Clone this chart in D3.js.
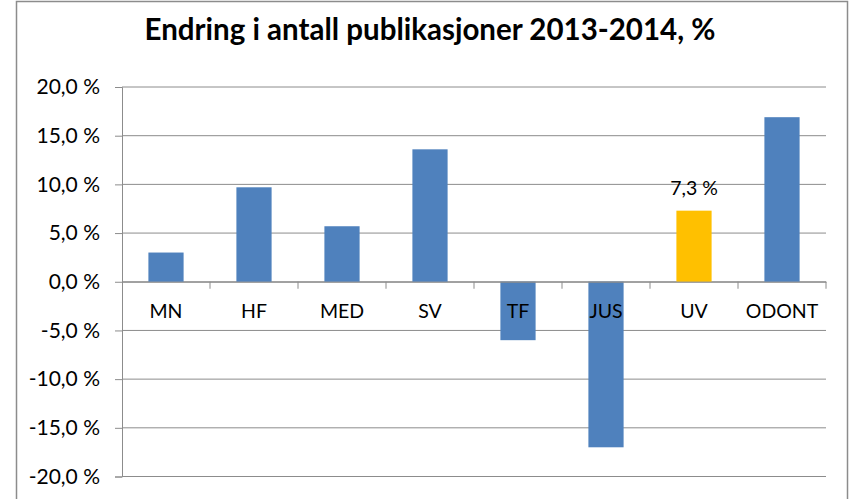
<!DOCTYPE html>
<html>
<head>
<meta charset="utf-8">
<script src="https://cdn.jsdelivr.net/npm/d3@7"></script>
<style>
  body { margin: 0; background: #fff; }
  text { font-family: Lato, "Open Sans", sans-serif; fill: #000; }
</style>
</head>
<body>
<div id="chart"></div>
<script>
// data
var categories = ["MN", "HF", "MED", "SV", "TF", "JUS", "UV", "ODONT"];
var changes = [3.0, 9.7, 5.7, 13.6, -6.0, -17.0, 7.3, 16.9];
var highlight = "UV";
var yTicks = [-20, -15, -10, -5, 0, 5, 10, 15, 20];
var chartTitle = "Endring i antall publikasjoner 2013-2014, %";

var svgWidth = 850;
var svgHeight = 499;

var margin = { top: 87, right: 24, bottom: 22, left: 122 };
var width = 826 - margin.left;
var height = 476.5 - margin.top;

// Norwegian style: comma decimal, plain hyphen for minus
var fmt = function (v) { return v.toFixed(1).replace(".", ",") + " %"; };

var svg = d3.select("#chart").append("svg")
    .attr("width", svgWidth)
    .attr("height", svgHeight);

// outer frame
svg.append("rect")
    .attr("x", 16.5).attr("y", 1.5)
    .attr("width", 831).attr("height", 520)
    .attr("fill", "#fff")
    .attr("stroke", "#8c8c8c")
    .attr("stroke-width", 1.5);

svg.append("text")
    .attr("x", 430)
    .attr("y", 40)
    .attr("text-anchor", "middle")
    .attr("font-size", 29.5)
    .attr("font-weight", "bold")
    .text(chartTitle);

var chartGroup = svg.append("g")
    .attr("transform", `translate(${margin.left}, ${margin.top})`);

var xScale = d3.scaleBand()
    .domain(categories)
    .range([0, width])
    .paddingInner(0.6)
    .paddingOuter(0.3);

var xGrid = d3.scaleBand().domain(categories).range([0, width]);

var yScale = d3.scaleLinear()
    .domain([-20, 20])
    .range([height, 0]);

// gridlines + left axis
var leftAxis = d3.axisLeft(yScale)
    .tickValues(yTicks)
    .tickSize(7)
    .tickPadding(15)
    .tickFormat(fmt);

var yAxisG = chartGroup.append("g").call(leftAxis);
yAxisG.select(".domain").attr("stroke", "#8c8c8c");
yAxisG.selectAll(".tick line").attr("stroke", "#8c8c8c");
yAxisG.selectAll("text").attr("font-size", 21).attr("fill", "#000");

chartGroup.append("g")
    .selectAll("line")
    .data(yTicks)
    .enter()
    .append("line")
    .attr("x1", 0)
    .attr("x2", width)
    .attr("y1", d => yScale(d))
    .attr("y2", d => yScale(d))
    .attr("stroke", "#8c8c8c")
    .attr("stroke-width", 1);

// bars
chartGroup.selectAll(".bar")
    .data(categories)
    .enter()
    .append("rect")
    .attr("class", "bar")
    .attr("x", d => xScale(d))
    .attr("width", xScale.bandwidth())
    .attr("y", (d, i) => yScale(Math.max(0, changes[i])))
    .attr("height", (d, i) => Math.abs(yScale(changes[i]) - yScale(0)))
    .attr("fill", d => d === highlight ? "#ffc000" : "#4f81bd");

// category axis on the zero line
var bottomAxis = d3.axisBottom(xGrid).tickSize(0).tickPadding(22);
var xAxisG = chartGroup.append("g")
    .attr("transform", `translate(0, ${yScale(0)})`)
    .call(bottomAxis);
xAxisG.select(".domain").attr("stroke", "#8c8c8c");
xAxisG.selectAll("text").attr("font-size", 19.5).attr("fill", "#000");

chartGroup.append("g")
    .selectAll("line")
    .data(categories)
    .enter()
    .append("line")
    .attr("x1", d => xGrid(d) + xGrid.bandwidth())
    .attr("x2", d => xGrid(d) + xGrid.bandwidth())
    .attr("y1", yScale(0))
    .attr("y2", yScale(0) + 7)
    .attr("stroke", "#8c8c8c");

// data label on the highlighted bar
var hi = categories.indexOf(highlight);
chartGroup.append("text")
    .attr("x", xScale(highlight) + xScale.bandwidth() / 2)
    .attr("y", yScale(changes[hi]) - 16)
    .attr("text-anchor", "middle")
    .attr("font-size", 19.5)
    .text(fmt(changes[hi]));
</script>
</body>
</html>
